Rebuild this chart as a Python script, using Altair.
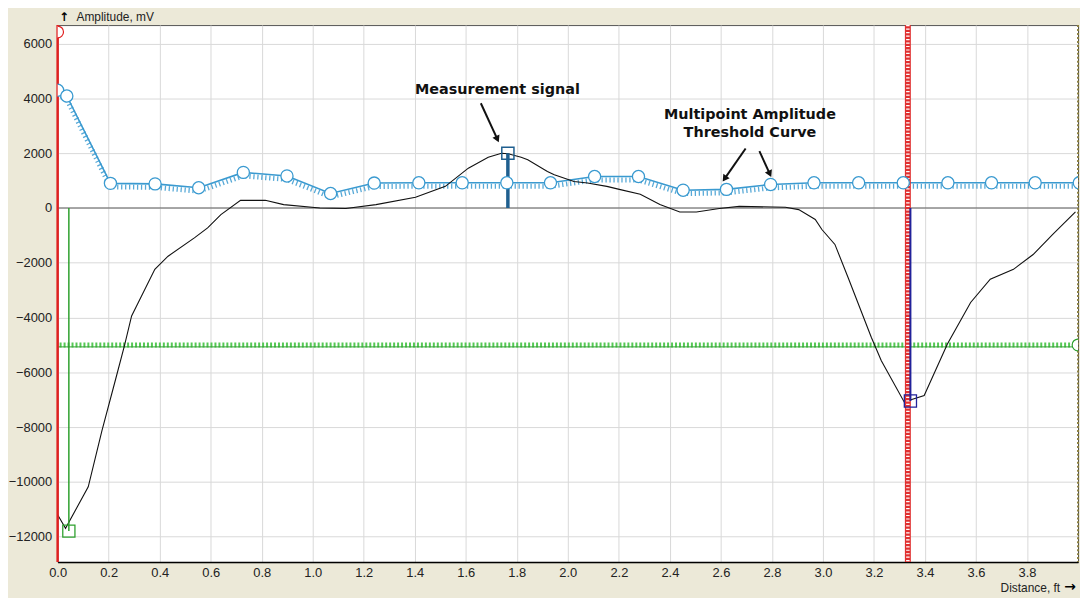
import altair as alt
import pandas as pd

# ---- data ----
sig_x = [0.000, 0.031, 0.120, 0.174, 0.226, 0.262, 0.290, 0.381, 0.433, 0.536, 0.588, 0.640,
         0.717, 0.814, 0.886, 1.028, 1.130, 1.248, 1.403, 1.520, 1.610, 1.688, 1.740, 1.766,
         1.817, 1.843, 1.920, 1.947, 2.024, 2.077, 2.153, 2.206, 2.284, 2.361, 2.439, 2.504,
         2.594, 2.672, 2.853, 2.905, 2.970, 2.996, 3.047, 3.099, 3.190, 3.229, 3.319, 3.345,
         3.397, 3.488, 3.579, 3.656, 3.747, 3.824, 3.900, 3.990]
sig_y = [-11200, -11700, -10180, -8120, -6300, -5030, -3940, -2240, -1760, -1090, -727, -240,
         280, 280, 124, 0, -20, 124, 390, 790, 1455, 1850, 2000, 1980,
         1850, 1760, 1335, 1215, 970, 910, 790, 670, 500, 124, -145, -145,
         -20, 60, 25, -60, -420, -785, -1330, -2545, -4730, -5575, -7090, -7000,
         -6850, -4967, -3450, -2600, -2240, -1700, -970, -145]

thr_x = [0.000, 0.036, 0.207, 0.382, 0.553, 0.728, 0.899, 1.070, 1.241, 1.416, 1.586, 1.761,
         1.932, 2.105, 2.277, 2.452, 2.622, 2.795, 2.965, 3.140, 3.315, 3.490, 3.661, 3.832, 4.005]
thr_y = [4300, 4090, 900, 880, 740, 1300, 1170, 530, 910, 920, 920, 920,
         920, 1150, 1150, 650, 680, 860, 920, 920, 920, 920, 920, 920, 920]

x_ticks = [0.0, 0.2, 0.4, 0.6, 0.8, 1.0, 1.2, 1.4, 1.6, 1.8, 2.0, 2.2, 2.4, 2.6, 2.8, 3.0,
           3.2, 3.4, 3.6, 3.8]
y_ticks = [-12000, -10000, -8000, -6000, -4000, -2000, 0, 2000, 4000, 6000]

# cursors / markers
green_cursor_x = [0.044]
green_cursor_y = [-11800]
meas_cursor_x = [1.765]
meas_cursor_y = [2000]
blue_cursor_x = [3.343]
blue_cursor_y = [-7050]
red_band_x = [3.333]
left_red_x = [0.0]
right_edge_x = [4.0]
red_circle_x = [0.0]
red_circle_y = [6430]
green_level_y = [-5000]
green_circle_x = [4.0]
zero_y = [0]

# annotations
ann_text = ["Measurement signal", "Multipoint Amplitude", "Threshold Curve"]
ann_x = [1.724, 2.714, 2.714]
ann_y = [4310, 3400, 2740]
arr_x = [1.659, 2.697, 2.751]
arr_y = [3826, 2174, 2076]
arr_x2 = [1.722, 2.617, 2.790]
arr_y2 = [2550, 1100, 1280]
arr_angle = [155, 215, 155]

X_DOMAIN = [0, 4.0]
Y_DOMAIN = [-12930, 6680]

xs = alt.Scale(domain=X_DOMAIN, nice=False, zero=False)
ys = alt.Scale(domain=Y_DOMAIN, nice=False, zero=False)

BLUE = "#3A9AD0"
GREEN = "#2EA02E"

sig = pd.DataFrame({"x": sig_x, "y": sig_y})
thr = pd.DataFrame({"x": thr_x, "y": thr_y})

xax = alt.Axis(values=x_ticks, format=".1f", title=None, grid=True, ticks=False,
               domain=True, domainColor="#000000", domainWidth=1.5, labelPadding=5,
               labelFlush=False)
yax = alt.Axis(values=y_ticks, format="d", title=None, grid=True, ticks=False,
               domain=False, labelPadding=6)


def X(field="x"):
    return alt.X(field + ":Q", scale=xs, axis=xax, title=None)


def Y(field="y"):
    return alt.Y(field + ":Q", scale=ys, axis=yax, title=None)


# green horizontal hatched level
gl = pd.DataFrame({"y": green_level_y})
green_hatch = alt.Chart(gl).mark_rule(color="#55C855", strokeWidth=5, strokeDash=[2, 2]).encode(y=Y())
green_line = alt.Chart(gl).mark_rule(color=GREEN, strokeWidth=1, yOffset=2).encode(y=Y())
green_circle = alt.Chart(pd.DataFrame({"x": green_circle_x, "y": green_level_y})).mark_point(
    shape="circle", size=140, filled=True, fill="white", stroke=GREEN, strokeWidth=1.2,
    opacity=1, clip=True).encode(x=X(), y=Y())

# zero line
zero = alt.Chart(pd.DataFrame({"y": zero_y})).mark_rule(color="#606060", strokeWidth=1).encode(y=Y())

# threshold curve with hatching
thr_hatch = alt.Chart(thr).mark_line(color=BLUE, strokeWidth=5, strokeDash=[1.3, 2.7],
                                     yOffset=3.5, opacity=0.85, clip=True).encode(x=X(), y=Y())
thr_line = alt.Chart(thr).mark_line(color=BLUE, strokeWidth=1.6, clip=True).encode(x=X(), y=Y())
thr_pts = alt.Chart(thr).mark_point(shape="circle", size=150, filled=True, fill="white",
                                    stroke=BLUE, strokeWidth=1.3, opacity=1, clip=True).encode(x=X(), y=Y())

# measurement signal
sig_line = alt.Chart(sig).mark_line(color="#111111", strokeWidth=1.1, clip=True).encode(x=X(), y=Y())

# vertical lines
left_red = alt.Chart(pd.DataFrame({"x": left_red_x})).mark_rule(color="#E02020", strokeWidth=2.5).encode(x=X())
right_edge = alt.Chart(pd.DataFrame({"x": right_edge_x})).mark_rule(
    color="#8C8040", strokeWidth=2, strokeDash=[2, 2]).encode(x=X())
red_band = alt.Chart(pd.DataFrame({"x": red_band_x})).mark_rule(color="#E03030", strokeWidth=6).encode(x=X())
red_band_hatch = alt.Chart(pd.DataFrame({"x": red_band_x})).mark_rule(
    color="white", strokeWidth=3.5, strokeDash=[1.2, 2.3]).encode(x=X())
red_circle = alt.Chart(pd.DataFrame({"x": red_circle_x, "y": red_circle_y})).mark_point(
    shape="circle", size=140, filled=True, fill="white", stroke="#E02020", strokeWidth=1.2,
    opacity=1, clip=True).encode(x=X(), y=Y())

gc = pd.DataFrame({"x": green_cursor_x, "y": zero_y, "y2": green_cursor_y})
green_vline = alt.Chart(gc).mark_rule(color=GREEN, strokeWidth=1.5).encode(
    x=X(), y=Y(), y2="y2:Q")
green_sq = alt.Chart(pd.DataFrame({"x": green_cursor_x, "y": green_cursor_y})).mark_point(
    shape="square", size=150, filled=False, stroke=GREEN, strokeWidth=1.3, opacity=1).encode(x=X(), y=Y())

mc = pd.DataFrame({"x": meas_cursor_x, "y": zero_y, "y2": meas_cursor_y})
meas_vline = alt.Chart(mc).mark_rule(color="#1F5F8F", strokeWidth=3.5).encode(x=X(), y=Y(), y2="y2:Q")
meas_sq = alt.Chart(pd.DataFrame({"x": meas_cursor_x, "y": meas_cursor_y})).mark_point(
    shape="square", size=150, filled=False, stroke="#1F5F8F", strokeWidth=1.5, opacity=1).encode(x=X(), y=Y())

bc = pd.DataFrame({"x": blue_cursor_x, "y": zero_y, "y2": blue_cursor_y})
blue_vline = alt.Chart(bc).mark_rule(color="#22229A", strokeWidth=2).encode(x=X(), y=Y(), y2="y2:Q")
blue_sq = alt.Chart(pd.DataFrame({"x": blue_cursor_x, "y": blue_cursor_y})).mark_point(
    shape="square", size=150, filled=False, stroke="#22229A", strokeWidth=1.3, opacity=1).encode(x=X(), y=Y())

# annotations
ann = pd.DataFrame({"x": ann_x, "y": ann_y, "t": ann_text})
ann_txt = alt.Chart(ann).mark_text(font="DejaVu Sans", fontWeight="bold", fontSize=14.5,
                                   color="#111111", align="center", baseline="middle").encode(
    x=X(), y=Y(), text="t:N")
arr = pd.DataFrame({"x": arr_x, "y": arr_y, "x2": arr_x2, "y2": arr_y2, "a": arr_angle})
arr_lines = alt.Chart(arr).mark_rule(color="#111111", strokeWidth=2).encode(
    x=X(), y=Y(), x2="x2:Q", y2="y2:Q")
arr_heads = alt.Chart(arr).mark_point(shape="triangle", size=60, filled=True, color="#111111",
                                      opacity=1).encode(
    x=X("x2"), y=Y("y2"), angle=alt.Angle("a:Q", scale=None))

# axis titles as text
ytitle_arrow = alt.Chart(pd.DataFrame({"t": ["\u2191"]})).mark_text(
    font="DejaVu Sans", fontSize=12, fontWeight="bold", align="center", baseline="middle",
    color="#000000").encode(x=alt.value(7), y=alt.value(-8), text="t:N")
ytitle = alt.Chart(pd.DataFrame({"t": ["Amplitude, mV"]})).mark_text(
    font="Liberation Sans", fontSize=12, align="left", baseline="middle",
    color="#222222").encode(x=alt.value(19), y=alt.value(-8), text="t:N")
xtitle = alt.Chart(pd.DataFrame({"t": ["Distance, ft"]})).mark_text(
    font="Liberation Sans", fontSize=12, align="right", baseline="middle",
    color="#222222").encode(x=alt.value(1010), y=alt.value(567), text="t:N")
xtitle_arrow = alt.Chart(pd.DataFrame({"t": ["\u2192"]})).mark_text(
    font="DejaVu Sans", fontSize=14, fontWeight="bold", align="center", baseline="middle",
    color="#000000").encode(x=alt.value(1020), y=alt.value(566), text="t:N")

chart = alt.layer(
    thr_hatch, green_hatch, green_line, zero, thr_line, sig_line,
    left_red, right_edge, red_band, red_band_hatch, green_vline, meas_vline, blue_vline,
    thr_pts, green_circle, red_circle, green_sq, meas_sq, blue_sq,
    arr_lines, arr_heads, ann_txt, ytitle_arrow, ytitle, xtitle, xtitle_arrow
).properties(
    width=1028, height=541,
    padding={"left": 50, "top": 15, "right": 2, "bottom": 34},
    autosize=alt.AutoSizeParams(type="none"),
    background="#ECE9D8",
).configure_view(
    fill="white", stroke="#555555", strokeWidth=1
).configure_axis(
    gridColor="#D9D9D9", gridWidth=1, labelFont="Liberation Sans", labelFontSize=13,
    labelColor="#222222"
)

chart.save("out.html", embed_options={"renderer": "svg", "actions": False})
